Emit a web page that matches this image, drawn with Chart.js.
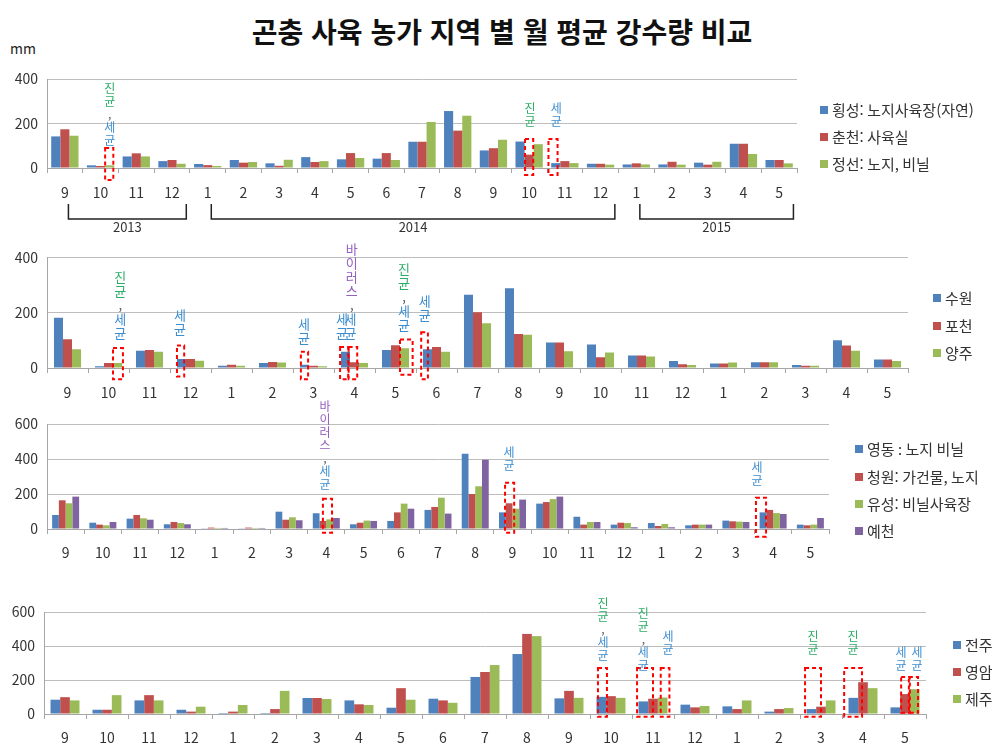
<!DOCTYPE html>
<html lang="ko">
<head>
<meta charset="utf-8">
<title>곤충 사육 농가 지역 별 월 평균 강수량 비교</title>
<script src="https://cdn.jsdelivr.net/npm/chart.js@4.4.1/dist/chart.umd.min.js"></script>
<style>
  html, body { margin: 0; padding: 0; background: #fff; }
  body { width: 1004px; height: 749px; position: relative; overflow: hidden; font-family: "Noto Sans CJK KR", sans-serif; }
  #title { position: absolute; left: 0; top: 11px; width: 1004px; text-align: center; font-size: 28px; line-height: 40px; font-weight: bold; color: #111; }
  #unit { position: absolute; left: 10px; top: 38px; font-size: 14px; color: #222; }
  canvas { position: absolute; left: 0; }
</style>
</head>
<body>
<div id="title">곤충 사육 농가 지역 별 월 평균 강수량 비교</div>
<div id="unit">mm</div>
<canvas id="c1"></canvas>
<canvas id="c2"></canvas>
<canvas id="c3"></canvas>
<canvas id="c4"></canvas>
<script>
// 월 (2013.9 ~ 2015.5)
const months = ['9','10','11','12','1','2','3','4','5','6','7','8','9','10','11','12','1','2','3','4','5'];
const years = ['2013', '2014', '2015'];
const yearFirst = [0, 4, 16];
const yearLast = [3, 15, 20];

// 강원
const hoengseong = [142,12,52,31,18,36,21,49,39,42,118,256,79,119,22,19,16,16,24,109,36];
const chuncheon  = [174,9,66,36,13,24,10,27,67,67,118,168,89,60,31,19,21,28,15,109,36];
const jeongseon  = [145,12,52,19,9,27,37,31,45,36,207,235,127,107,22,15,16,15,28,63,21];

// 경기
const suwon   = [182,6,62,33,8,18,12,59,65,68,265,288,92,85,45,25,16,21,11,100,31];
const pocheon = [104,18,65,33,12,22,8,21,82,76,202,123,92,39,45,14,16,21,8,81,31];
const yangju  = [68,18,59,26,8,20,6,18,71,59,162,120,61,56,42,11,20,21,8,62,25];

// 충청 / 경북
const yeongdong = [80,36,59,27,4,4,99,90,27,46,109,430,95,145,70,25,34,21,48,95,25];
const cheongwon = [164,25,80,40,8,8,53,46,36,95,126,200,147,154,25,36,17,25,44,109,21];
const yuseong   = [147,21,61,34,6,6,67,55,48,145,179,244,116,171,40,34,29,25,42,91,25];
const yecheon   = [185,40,53,27,6,6,50,63,46,116,88,396,168,185,40,10,10,25,40,86,63];

// 전라 / 제주
const jeonju = [84,25,80,25,6,6,94,80,37,90,218,353,92,101,74,55,45,14,29,95,39];
const yeongam = [99,25,111,14,14,29,94,57,152,80,247,471,136,105,90,39,29,29,43,187,117];
const jeju = [80,111,80,43,53,136,88,53,84,66,288,458,95,95,97,47,80,35,80,152,146];

// 병원체 표시 (cat: 월 순번, from/to: 막대 단위, top/bottom: mm)
const FS = [['진균','g'],[',','k'],['세균','b']];
const boxes1 = [
  {cat:1, from:2, to:2.9, top:90, bottom:-54},
  {cat:13, from:1.05, to:1.95, top:130, bottom:-31},
  {cat:14, from:-0.3, to:0.7, top:130, bottom:-31}
];
const texts1 = [
  {cat:1, at:2.5, bottom:94, parts:FS},
  {cat:13, at:1.6, bottom:180, parts:[['진균','g']]},
  {cat:14, at:0.55, bottom:180, parts:[['세균','b']]}
];
const boxes2 = [
  {cat:1, from:2, to:3.1, top:72, bottom:-41},
  {cat:3, from:0, to:0.8, top:81, bottom:-31},
  {cat:6, from:0.1, to:0.9, top:59, bottom:-41},
  {cat:7, from:-0.1, to:0.8, top:76, bottom:-41},
  {cat:7, from:0.85, to:1.8, top:76, bottom:-41},
  {cat:8, from:2, to:3.4, top:103, bottom:-24},
  {cat:9, from:-0.2, to:0.55, top:129, bottom:-41}
];
const texts2 = [
  {cat:1, at:2.8, bottom:100, parts:FS},
  {cat:3, at:0.33, bottom:112, parts:[['세균','b']]},
  {cat:6, at:0.45, bottom:82, parts:[['세균','b']]},
  {cat:7, at:1.2, bottom:199, parts:[['바이러스','p'],[',','k']]},
  {cat:7, at:0.1, bottom:100, parts:[['세균','b']]},
  {cat:7, at:1.05, bottom:100, parts:[['세균','b']]},
  {cat:8, at:2.45, bottom:128, parts:FS},
  {cat:9, at:0.2, bottom:163, parts:[['세균','b']]}
];
const boxes3 = [
  {cat:7, from:1.5, to:2.85, top:173, bottom:-21},
  {cat:12, from:0.9, to:2.25, top:264, bottom:-21},
  {cat:19, from:-0.55, to:0.95, top:179, bottom:-44}
];
const texts3 = [
  {cat:7, at:1.8, bottom:213, parts:[['바이러스','p'],[',','k'],['세균','b']]},
  {cat:12, at:1.5, bottom:322, parts:[['세균','b']]},
  {cat:19, at:-0.4, bottom:236, parts:[['세균','b']]}
];
const boxes4 = [
  {cat:13, from:0.15, to:1.08, top:270, bottom:-16},
  {cat:14, from:-0.15, to:1.5, top:270, bottom:-16},
  {cat:14, from:2.3, to:3.2, top:270, bottom:-16},
  {cat:18, from:-0.15, to:1.5, top:270, bottom:-16},
  {cat:19, from:-0.45, to:1.4, top:270, bottom:-16},
  {cat:20, from:1.1, to:2.0, top:217, bottom:8},
  {cat:20, from:1.9, to:2.85, top:217, bottom:8}
];
const texts4 = [
  {cat:13, at:0.67, bottom:306, parts:FS},
  {cat:14, at:0.5, bottom:243, parts:FS},
  {cat:14, at:3.05, bottom:337, parts:[['세균','b']]},
  {cat:18, at:0.67, bottom:337, parts:[['진균','g']]},
  {cat:19, at:0.47, bottom:337, parts:[['진균','g']]},
  {cat:20, at:1.1, bottom:243, parts:[['세균','b']]},
  {cat:20, at:2.75, bottom:243, parts:[['세균','b']]}
];

const COLORS = ['#4F81BD', '#C0504D', '#9BBB59', '#8064A2'];
const NOTE_COLORS = { g: '#2BAE66', b: '#3C8DD0', p: '#9460C0', k: '#555' };
const FONT = '"Noto Sans CJK KR", sans-serif';

// 주석, 범례, 연도 괄호
const extras = {
  id: 'extras',
  afterDatasetsDraw(chart, args, o) {
    const ctx = chart.ctx, y = chart.scales.y;
    const meta0 = chart.getDatasetMeta(0);
    const slot = i => { const b = meta0.data[i]; return { left: b.x - b.width / 2, w: b.width }; };
    ctx.save();
    ctx.strokeStyle = '#FF0000';
    ctx.lineWidth = 2;
    ctx.setLineDash([4, 3]);
    o.boxes.forEach(b => {
      const s = slot(b.cat);
      const x0 = s.left + b.from * s.w, x1 = s.left + b.to * s.w;
      const y0 = y.getPixelForValue(b.top), y1 = y.getPixelForValue(b.bottom);
      ctx.strokeRect(x0, y0, x1 - x0, y1 - y0);
    });
    ctx.setLineDash([]);
    ctx.textAlign = 'center';
    ctx.textBaseline = 'top';
    o.texts.forEach(t => {
      const s = slot(t.cat);
      const cx = s.left + t.at * s.w;
      const chars = [];
      t.parts.forEach(([str, c]) => [...str].forEach(ch => chars.push([ch, c])));
      let yy = y.getPixelForValue(t.bottom) - chars.length * o.pitch;
      ctx.font = `${o.size}px ${FONT}`;
      chars.forEach(([ch, c]) => {
        ctx.fillStyle = NOTE_COLORS[c];
        ctx.fillText(ch, cx, yy);
        yy += o.pitch;
      });
    });
    ctx.restore();
  },
  afterDraw(chart, args, o) {
    const ctx = chart.ctx;
    ctx.save();
    // 범례
    ctx.font = `15px ${FONT}`;
    ctx.textAlign = 'left';
    ctx.textBaseline = 'middle';
    chart.data.datasets.forEach((ds, i) => {
      const ly = o.legendY[i] - o.top;
      ctx.fillStyle = ds.backgroundColor;
      ctx.fillRect(o.legendX, ly - 4, 8, 8);
      ctx.fillStyle = '#333';
      ctx.fillText(ds.label, o.legendX + 12, ly);
    });
    // 연도 괄호
    if (o.brackets) {
      const x = chart.scales.x;
      const yTop = 204 - o.top, yLine = 219 - o.top;
      ctx.strokeStyle = '#222';
      ctx.lineWidth = 1.5;
      ctx.font = `13px ${FONT}`;
      ctx.textAlign = 'center';
      years.forEach((yr, i) => {
        const xa = x.getPixelForValue(yearFirst[i] + 0.1);
        const xb = x.getPixelForValue(yearLast[i] + 0.4);
        ctx.beginPath();
        ctx.moveTo(xa, yTop); ctx.lineTo(xa, yLine); ctx.lineTo(xb, yLine); ctx.lineTo(xb, yTop);
        ctx.stroke();
        ctx.fillStyle = '#333';
        ctx.fillText(yr, (xa + xb) / 2, yLine + 8);
      });
    }
    ctx.restore();
  }
};

function makePanel(p) {
  const cv = document.getElementById(p.id);
  cv.width = 1004;
  cv.height = p.height;
  cv.style.top = p.top + 'px';
  const datasets = p.series.map((s, i) => ({
    label: p.names[i],
    data: s,
    backgroundColor: COLORS[i],
    borderWidth: 0,
    barPercentage: 1,
    categoryPercentage: p.catPct
  }));
  new Chart(cv, {
    type: 'bar',
    data: { labels: months, datasets },
    plugins: [extras],
    options: {
      responsive: false,
      animation: false,
      devicePixelRatio: 1,
      layout: { padding: { top: p.plotTop - p.top, right: 1004 - p.right, bottom: 0, left: 0 } },
      plugins: {
        legend: { display: false },
        tooltip: { enabled: false },
        extras: {
          boxes: p.boxes, texts: p.texts, size: p.noteSize, pitch: p.pitch,
          legendX: p.legendX, legendY: p.legendY, top: p.top, brackets: p.brackets
        }
      },
      scales: {
        x: {
          afterFit: s => { s.height = p.top + p.height - p.zero; },
          grid: { drawOnChartArea: false, drawTicks: true, tickLength: 5, color: '#A6A6A6' },
          border: { display: true, color: '#A6A6A6' },
          ticks: { autoSkip: false, maxRotation: 0, padding: p.tickPad, color: '#333', font: { family: FONT, size: 14 } }
        },
        y: {
          min: 0, max: p.max,
          afterFit: s => { s.width = p.yw; },
          grid: { color: '#BDBDBD', drawTicks: false },
          border: { display: true, color: '#A6A6A6' },
          ticks: { stepSize: 200, padding: 9, color: '#333', font: { family: FONT, size: 14 } }
        }
      }
    }
  });
}

makePanel({ id:'c1', top:60, height:180, yw:47, right:797, plotTop:79, zero:168, max:400, catPct:0.765, tickPad:11,
  series:[hoengseong, chuncheon, jeongseon], names:['횡성: 노지사육장(자연)', '춘천: 사육실', '정선: 노지, 비닐'],
  legendX:820, legendY:[110,137,164], boxes:boxes1, texts:texts1, noteSize:12, pitch:13, brackets:true });

makePanel({ id:'c2', top:240, height:170, yw:47, right:908, plotTop:255, zero:368, max:400, catPct:0.66, tickPad:11,
  series:[suwon, pocheon, yangju], names:['수원', '포천', '양주'],
  legendX:933, legendY:[298,326,353], boxes:boxes2, texts:texts2, noteSize:13, pitch:14, brackets:false });

makePanel({ id:'c3', top:400, height:165, yw:47, right:829, plotTop:424, zero:529, max:600, catPct:0.725, tickPad:10,
  series:[yeongdong, cheongwon, yuseong, yecheon], names:['영동 : 노지 비닐', '청원: 가건물, 노지', '유성: 비닐사육장', '예천'],
  legendX:855, legendY:[449,477,504,531], boxes:boxes3, texts:texts3, noteSize:12, pitch:13, brackets:false });

makePanel({ id:'c4', top:590, height:159, yw:44, right:926, plotTop:612, zero:714, max:600, catPct:0.69, tickPad:10,
  series:[jeonju, yeongam, jeju], names:['전주', '영암', '제주'],
  legendX:953, legendY:[645,672,699], boxes:boxes4, texts:texts4, noteSize:12, pitch:13, brackets:false });
</script>
</body>
</html>
